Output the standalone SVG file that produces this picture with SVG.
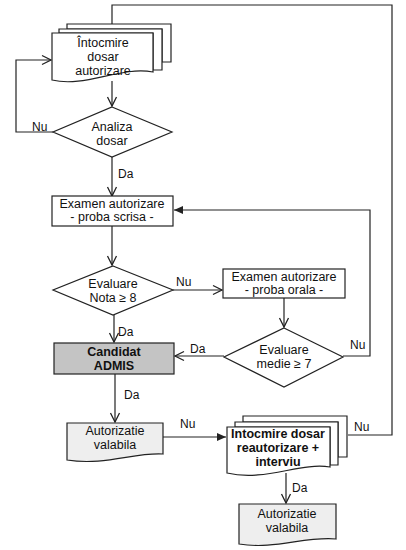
<svg xmlns="http://www.w3.org/2000/svg" width="406" height="550" viewBox="0 0 406 550">
<defs>
<style>
.s{fill:#fff;stroke:#222;stroke-width:1.2}
.g{fill:#c4c4c4;stroke:#222;stroke-width:1.2}
.l{fill:#eeeeee;stroke:#222;stroke-width:1.2}
.c{fill:none;stroke:#222;stroke-width:1.2}
.t{font-family:"Liberation Sans",Arial,sans-serif;font-size:12.5px;fill:#111;text-anchor:middle}
.b{font-weight:bold}
.lb{font-family:"Liberation Sans",Arial,sans-serif;font-size:12px;fill:#111}
</style>
<marker id="o" markerWidth="12" markerHeight="12" refX="10" refY="5" orient="auto" markerUnits="userSpaceOnUse" viewBox="0 0 12 10">
<path d="M1,0.5 L10,5 L1,9.5" fill="none" stroke="#222" stroke-width="1.3"/>
</marker>
<marker id="f" markerWidth="10" markerHeight="10" refX="9" refY="4" orient="auto" markerUnits="userSpaceOnUse" viewBox="0 0 10 8">
<path d="M0,0 L9,4 L0,8 Z" fill="#222"/>
</marker>
</defs>
<g id="connectors">
<path class="c" d="M112,24 V5 H392 V435 H348"/>
<path class="c" d="M112,81 V106" marker-end="url(#o)"/>
<path class="c" d="M53,132 H16 V60 H51" marker-end="url(#o)"/>
<path class="c" d="M112,157 V196" marker-end="url(#o)"/>
<path class="c" d="M343,356 H370 V210 H174" marker-end="url(#f)"/>
<path class="c" d="M112,226 V265" marker-end="url(#o)"/>
<path class="c" d="M173,290 H222" marker-end="url(#o)"/>
<path class="c" d="M284,298 V327" marker-end="url(#o)"/>
<path class="c" d="M224,356 H175" marker-end="url(#o)"/>
<path class="c" d="M114,315 V342" marker-end="url(#o)"/>
<path class="c" d="M115,374 V422" marker-end="url(#o)"/>
<path class="c" d="M163,437 H226" marker-end="url(#f)"/>
<path class="c" d="M286,473 V503" marker-end="url(#o)"/>
<text class="lb" x="32" y="131">Nu</text>
<text class="lb" x="118" y="178">Da</text>
<text class="lb" x="176" y="286">Nu</text>
<text class="lb" x="118" y="336">Da</text>
<text class="lb" x="190" y="353">Da</text>
<text class="lb" x="350" y="349">Nu</text>
<text class="lb" x="124" y="399">Da</text>
<text class="lb" x="180" y="428">Nu</text>
<text class="lb" x="354" y="431">Nu</text>
<text class="lb" x="292" y="492">Da</text>
</g>
<g id="n1">
<path class="s" d="M67,24 H171 V62 H162 V29 H67 Z"/>
<path class="s" d="M59,29 H162 V70 H153 V33 H59 Z"/>
<path class="s" d="M52,33 H153 V72 C120,66 85,88 52,80 Z"/>
<text class="t" x="103" y="47">Întocmire</text>
<text class="t" x="103" y="61">dosar</text>
<text class="t" x="103" y="75">autorizare</text>
</g>
<g id="n2">
<path class="s" d="M112,107 L172,132 L112,157 L53,132 Z"/>
<text class="t" x="112" y="131">Analiza</text>
<text class="t" x="112" y="145">dosar</text>
</g>
<g id="n3">
<rect class="s" x="52" y="196" width="121" height="30"/>
<text class="t" x="112" y="208">Examen autorizare</text>
<text class="t" x="112" y="221">- proba scrisa -</text>
</g>
<g id="n4">
<path class="s" d="M113,266 L173,290 L113,315 L53,290 Z"/>
<text class="t" x="113" y="288">Evaluare</text>
<text class="t" x="113" y="302">Nota ≥ 8</text>
</g>
<g id="n5">
<rect class="s" x="223" y="269" width="122" height="29"/>
<text class="t" x="284" y="281">Examen autorizare</text>
<text class="t" x="284" y="294">- proba orala -</text>
</g>
<g id="n6">
<path class="s" d="M284,328 L343,357 L284,387 L224,357 Z"/>
<text class="t" x="284" y="354">Evaluare</text>
<text class="t" x="284" y="368">medie ≥ 7</text>
</g>
<g id="n7">
<rect class="g" x="54" y="343" width="120" height="31"/>
<text class="t b" x="114" y="356">Candidat</text>
<text class="t b" x="114" y="370">ADMIS</text>
</g>
<g id="n8">
<path class="l" d="M67,423 H163 V454 C135,452 105,466 67,460 Z"/>
<text class="t" x="115" y="435">Autorizatie</text>
<text class="t" x="115" y="449">valabila</text>
</g>
<g id="n9">
<path class="s" d="M243,416 H347 V457 H338 V422 H243 Z"/>
<path class="s" d="M235,422 H338 V465 H330 V427 H235 Z"/>
<path class="s" d="M227,427 H330 V467 C300,462 265,482 227,473 Z"/>
<text class="t b" x="278" y="438">Intocmire dosar</text>
<text class="t b" x="278" y="452">reautorizare +</text>
<text class="t b" x="278" y="466">interviu</text>
</g>
<g id="n10">
<path class="l" d="M239,504 H336 V539 C305,536 275,550 239,544 Z"/>
<text class="t" x="287" y="518">Autorizatie</text>
<text class="t" x="287" y="532">valabila</text>
</g>
</svg>
